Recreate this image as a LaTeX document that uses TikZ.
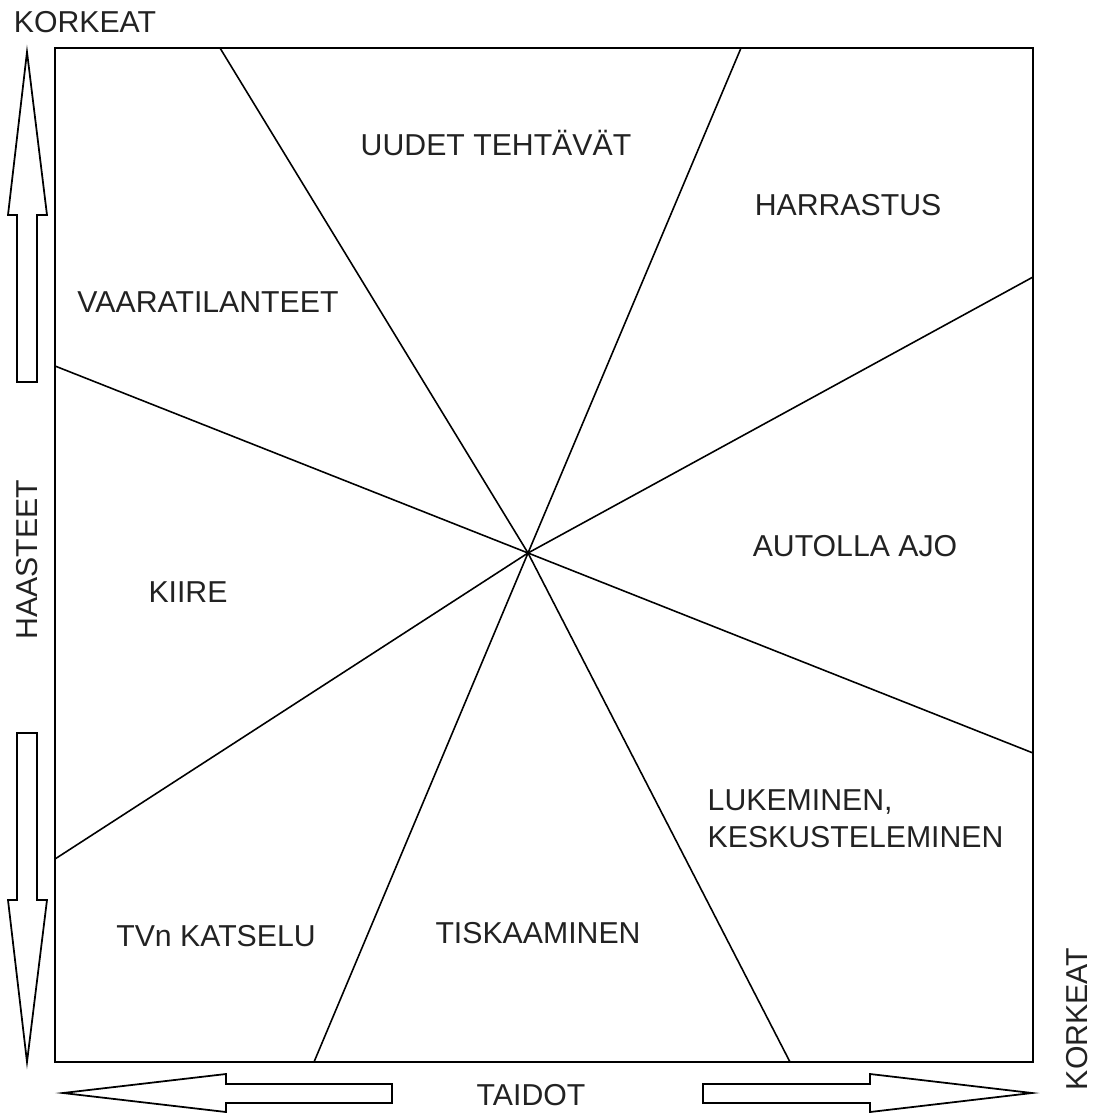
\documentclass[tikz,border=0pt]{standalone}
\usepackage{fontspec}
\setmainfont{Liberation Sans}
\usepackage{xcolor}
\usetikzlibrary{positioning}
\definecolor{mytext}{RGB}{34, 34, 34}

\begin{document}
\begin{tikzpicture}[x=0.01cm,y=-0.01cm,
    lbl/.style={text=mytext,font=\fontsize{8.6}{10.5}\selectfont,inner sep=0pt},
    ray/.style={line width=0.45pt},
    bigarrow/.style={line width=0.5pt}]
        \useasboundingbox (0,0) rectangle (1094,1113);
        % frame
        \draw[line width=0.65pt](55,48) rectangle (1033,1062);
        % rays from the centre
        \coordinate (c) at (528,553);
        \coordinate (t1) at (220,48);
        \coordinate (t2) at (741,48);
        \coordinate (r1) at (1033,277);
        \coordinate (r2) at (1033,753);
        \coordinate (b1) at (790,1062);
        \coordinate (b2) at (314,1062);
        \coordinate (l1) at (55,859);
        \coordinate (l2) at (55,366);
        \foreach \e in {t1,t2,r1,r2,b1,b2,l1,l2}
          \draw[ray](c)--(\e);
        % arrows
        \draw[bigarrow](17,382)--(17,215)--(8,215)--(27,52)--(47,215)--(37,215)--(37,382)--cycle;
        \draw[bigarrow](17,733)--(17,900)--(8,900)--(27,1062)--(47,900)--(37,900)--(37,733)--cycle;
        \draw[bigarrow](392,1084)--(226,1084)--(226,1074)--(63,1093)--(226,1112)--(226,1103)--(392,1103)--cycle;
        \draw[bigarrow](703,1084)--(870,1084)--(870,1074)--(1032,1093)--(870,1112)--(870,1103)--(703,1103)--cycle;
        % labels
        \node[lbl] (korkeatA) at (85,22){KORKEAT};
        \node[lbl,rotate=90] (haasteet) at (27,560){HAASTEET};
        \node[lbl] (taidot) at (531,1095){TAIDOT};
        \node[lbl,rotate=90] (korkeatB) at (1077,1019){KORKEAT};
        \node[lbl] (uudet) at (496,143){UUDET TEHTÄVÄT};
        \node[lbl] (harrastus) at (848,205){HARRASTUS};
        \node[lbl] (vaara) at (208,302){VAARATILANTEET};
        \node[lbl] (autolla) at (855,546){AUTOLLA AJO};
        \node[lbl] (kiire) at (188,592){KIIRE};
        \node[lbl,anchor=west,align=left] (lukeminen) at (707,819){LUKEMINEN,\\KESKUSTELEMINEN};
        \node[lbl] (tv) at (216,936){TVn KATSELU};
        \node[lbl] (tiskaaminen) at (538,933){TISKAAMINEN};
      \end{tikzpicture}
\end{document}
